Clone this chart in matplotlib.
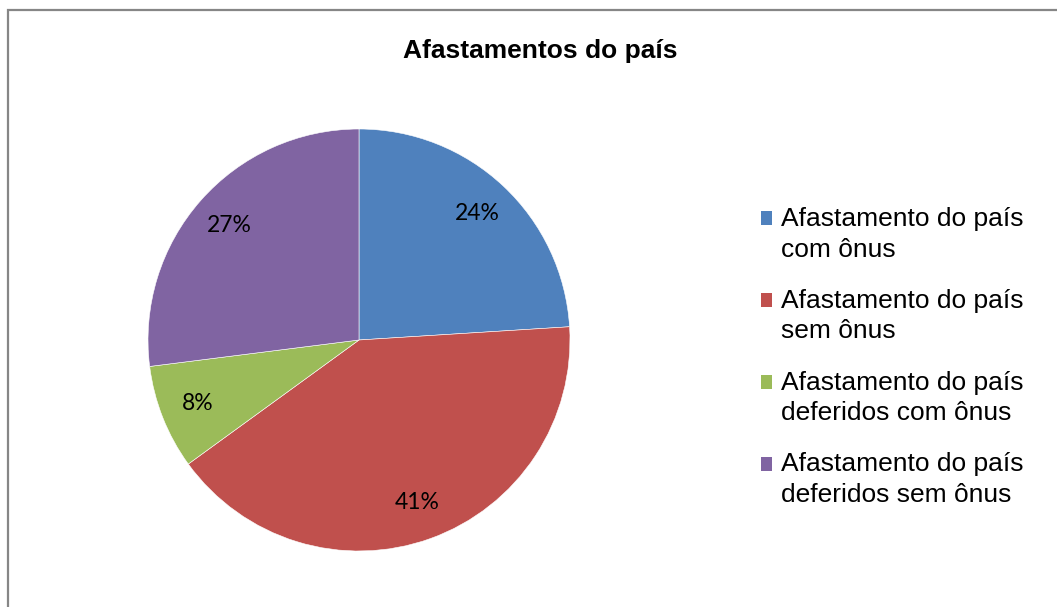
import numpy as np
import matplotlib.pyplot as plt
from matplotlib.patches import Rectangle
from matplotlib.legend_handler import HandlerPatch

labels = ['Afastamento do país\ncom ônus',
          'Afastamento do país\nsem ônus',
          'Afastamento do país\ndeferidos com ônus',
          'Afastamento do país\ndeferidos sem ônus']
values = [24, 41, 8, 27]
colors = ['#4F81BD', '#C0504D', '#9BBB59', '#8064A2']
title = 'Afastamentos do país'

W, H = 1057, 607
fig = plt.figure(figsize=(W/100, H/100), dpi=100)

# chart frame (cropped on right/bottom)
fig.add_artist(Rectangle((8/W, -0.1), 1.2, (H - 10)/H + 0.1, transform=fig.transFigure,
                         fill=False, edgecolor='#868686', lw=1.6))

cx, cy, r = 359, 340, 211
ax = fig.add_axes([(cx - r)/W, 1 - (cy + r)/H, 2*r/W, 2*r/H])
wedges, texts, autotexts = ax.pie(values, colors=colors, startangle=90, counterclock=False,
                                  autopct='%1.0f%%', pctdistance=0.82,
                                  wedgeprops=dict(edgecolor='white', linewidth=0.4),
                                  textprops=dict(fontsize=16.5, family='Lato', color='black'))
ax.set_xlim(-1, 1)
ax.set_ylim(-1, 1)

fig.text(540/W, 1 - 51/H, title, ha='center', va='center', fontsize=19,
         fontweight='bold', family='Liberation Sans')


# legend marker next to the first line of a two-line label
class FirstLinePatch(HandlerPatch):
    def create_artists(self, legend, orig_handle, xdescent, ydescent, width, height,
                       fontsize, trans):
        shift = 0.61 * fontsize
        p = Rectangle((-xdescent, -ydescent + shift), width, height,
                      facecolor=orig_handle.get_facecolor(), edgecolor='none',
                      transform=trans)
        return [p]


leg = fig.legend(wedges, labels, loc='upper left', bbox_to_anchor=(761/W, 1 - 207/H),
                 frameon=False, prop=dict(family='Liberation Sans', size=19),
                 handlelength=0.42, handleheight=0.42, handletextpad=0.34,
                 labelspacing=1.03, borderpad=0, borderaxespad=0,
                 handler_map={type(wedges[0]): FirstLinePatch()})
for t in leg.get_texts():
    t.set_linespacing(1.35)

fig.savefig('out.png', dpi=100)
